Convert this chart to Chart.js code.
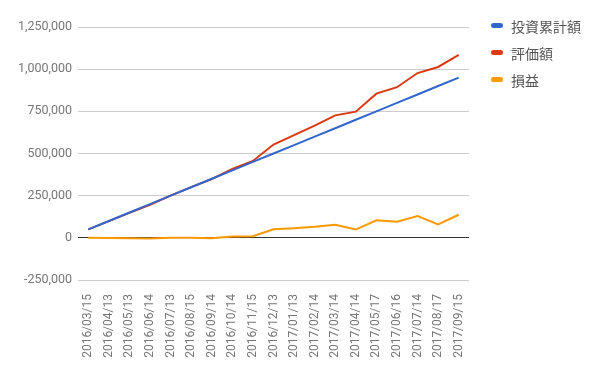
<!DOCTYPE html>
<html>
<head>
<meta charset="utf-8">
<script src="https://cdn.jsdelivr.net/npm/chart.js@4/dist/chart.umd.min.js"></script>
<style>
  html, body { margin: 0; padding: 0; background: #fff; }
  #wrap { position: relative; width: 600px; height: 371px; }
  #legend { position: absolute; left: 491px; top: 12px; font: 14px Roboto, "Noto Sans CJK JP", sans-serif; color: #555; }
  .item { display: flex; align-items: center; height: 27px; }
  .swatch { width: 12px; height: 5px; border-radius: 3px; margin-right: 8px; }
</style>
</head>
<body>
<div id="wrap">
  <canvas id="chart" width="600" height="371"></canvas>
  <div id="legend"></div>
</div>
<script>
// ── Data ──────────────────────────────────────────────────
const labels = [
  '2016/03/15', '2016/04/13', '2016/05/13', '2016/06/14', '2016/07/13',
  '2016/08/15', '2016/09/14', '2016/10/14', '2016/11/15', '2016/12/13',
  '2017/01/13', '2017/02/14', '2017/03/14', '2017/04/14', '2017/05/17',
  '2017/06/16', '2017/07/14', '2017/08/17', '2017/09/15',
];
const invested = [
  50000, 100000, 150000, 200000, 250000, 300000, 350000, 400000, 450000, 500000,
  550000, 600000, 650000, 700000, 750000, 800000, 850000, 900000, 950000,
];
const valuation = [
  50000, 99000, 148000, 196000, 250000, 301000, 348000, 408000, 456000, 553000,
  609000, 665000, 726000, 748000, 855000, 893000, 977000, 1013000, 1085000,
];
const profit = [
  0, -1000, -2000, -4000, 0, 1000, -2000, 8000, 9000, 51000,
  57000, 65000, 77000, 49000, 104000, 95000, 129000, 79000, 137000,
];
const seriesNames = ['投資累計額', '評価額', '損益'];
const seriesColors = ['#3366cc', '#dc3912', '#ff9900'];
const yTicks = [-250000, 0, 250000, 500000, 750000, 1000000, 1250000];

// ── Chart ─────────────────────────────────────────────────
const font = "Roboto, 'Noto Sans CJK JP', sans-serif";

new Chart(document.getElementById('chart'), {
  type: 'line',
  data: {
    labels,
    datasets: [invested, valuation, profit].map((d, i) => ({
      label: seriesNames[i],
      data: d,
      borderColor: seriesColors[i],
      backgroundColor: seriesColors[i],
      borderWidth: 2,
      pointRadius: 0,
      tension: 0,
    })),
  },
  options: {
    responsive: false,
    animation: false,
    layout: { padding: { left: 0, right: 131, top: 27, bottom: 0 } },
    plugins: { legend: { display: false }, tooltip: { enabled: false } },
    scales: {
      x: {
        offset: true,
        grid: { display: false },
        border: { display: false },
        ticks: {
          color: '#777',
          font: { family: font, size: 12 },
          minRotation: 90,
          maxRotation: 90,
          autoSkip: false,
          padding: 6,
        },
        afterFit: (s) => { s.height = 91; },
      },
      y: {
        min: yTicks[0],
        max: yTicks[yTicks.length - 1],
        afterBuildTicks: (s) => { s.ticks = yTicks.map(v => ({ value: v })); },
        grid: {
          drawTicks: false,
          color: (ctx) => ctx.tick && ctx.tick.value === 0 ? '#333' : '#ccc',
        },
        border: { display: false },
        ticks: {
          color: '#777',
          font: { family: font, size: 12.5 },
          padding: 6,
          callback: (v) => v.toLocaleString('en-US'),
        },
        afterFit: (s) => { s.width = 78; },
      },
    },
  },
});

// ── Legend ────────────────────────────────────────────────
const legend = document.getElementById('legend');
seriesNames.forEach((name, i) => {
  const row = document.createElement('div');
  row.className = 'item';
  row.innerHTML = `<span class="swatch" style="background:${seriesColors[i]}"></span><span>${name}</span>`;
  legend.appendChild(row);
});
</script>
</body>
</html>
